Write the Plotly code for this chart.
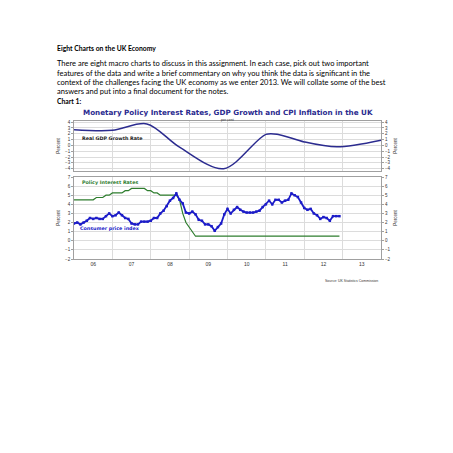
import numpy as np
import plotly.graph_objects as go

# data
year_labels = ["06", "07", "08", "09", "10", "11", "12", "13"]

gdp_x = [2006.0, 2007.0, 2007.9, 2008.75, 2009.9, 2011.0, 2011.35, 2012.0, 2012.85, 2014.0]
gdp_y = [2.7, 2.6, 3.7, -0.3, -4.0, 1.9, 1.85, 0.6, -0.25, 0.9]

policy_rate = [4.5, 4.5, 4.5, 4.5, 4.5, 4.5, 4.5, 4.75, 4.75, 4.75, 5.0, 5.0,
               5.25, 5.25, 5.25, 5.25, 5.5, 5.5, 5.75, 5.75, 5.75, 5.75, 5.75, 5.5,
               5.5, 5.25, 5.25, 5.0, 5.0, 5.0, 5.0, 5.0, 5.0, 4.5, 3.0, 2.0,
               1.5, 1.0, 0.5, 0.5, 0.5, 0.5, 0.5, 0.5, 0.5, 0.5, 0.5, 0.5,
               0.5, 0.5, 0.5, 0.5, 0.5, 0.5, 0.5, 0.5, 0.5, 0.5, 0.5, 0.5,
               0.5, 0.5, 0.5, 0.5, 0.5, 0.5, 0.5, 0.5, 0.5, 0.5, 0.5, 0.5,
               0.5, 0.5, 0.5, 0.5, 0.5, 0.5, 0.5, 0.5, 0.5, 0.5, 0.5, 0.5]

cpi = [1.9, 2.0, 1.8, 2.0, 2.2, 2.5, 2.4, 2.5, 2.4, 2.4, 2.7, 3.0,
       2.7, 2.8, 3.1, 2.8, 2.5, 2.4, 1.9, 1.8, 1.8, 2.1, 2.1, 2.1,
       2.2, 2.5, 2.5, 3.0, 3.3, 3.8, 4.4, 4.7, 5.2, 4.5, 4.1, 3.1,
       3.0, 3.2, 2.9, 2.3, 2.2, 1.8, 1.8, 1.6, 1.1, 1.5, 1.9, 2.9,
       3.5, 3.0, 3.4, 3.7, 3.4, 3.2, 3.1, 3.1, 3.1, 3.2, 3.3, 3.7,
       4.0, 4.4, 4.0, 4.5, 4.5, 4.2, 4.4, 4.5, 5.2, 5.0, 4.8, 4.2,
       3.6, 3.4, 3.5, 3.0, 2.8, 2.4, 2.6, 2.5, 2.2, 2.7, 2.7, 2.7]

paragraph_lines = [
    "There are eight macro charts to discuss in this assignment. In each case, pick out two important",
    "features of the data and write a brief commentary on why you think the data is significant in the",
    "context of the challenges facing the UK economy as we enter 2013. We will collate some of the best",
    "answers and put into a final document for the notes.",
]

months = 2006 + np.arange(len(cpi)) / 12

NAVY = "#2b2b8f"
BLUE = "#1c1cc8"
GREEN = "#2e7d2e"
GRID = "#dcdcdc"
BORDER = "#a0a0a0"

# page body has an 8px margin, so the figure is 445 wide and positions are page pixels
W = 445
fx = lambda v: (v - 8) / W
fy = lambda v: 1 - (v - 8) / W

fig = go.Figure()

fig.add_trace(go.Scatter(x=gdp_x, y=gdp_y, mode="lines", xaxis="x2", yaxis="y2",
                         line=dict(color=NAVY, width=1.5, shape="spline", smoothing=0.9)))
fig.add_trace(go.Scatter(x=months, y=policy_rate, mode="lines", xaxis="x", yaxis="y",
                         line=dict(color=GREEN, width=1.2)))
fig.add_trace(go.Scatter(x=months, y=cpi, mode="lines+markers", xaxis="x", yaxis="y",
                         line=dict(color=BLUE, width=1.8),
                         marker=dict(symbol="square", size=2.5, color=BLUE)))
# invisible traces so the right-hand axes are drawn
fig.add_trace(go.Scatter(x=[2006], y=[0], xaxis="x", yaxis="y3", mode="markers",
                         marker=dict(opacity=0), hoverinfo="skip"))
fig.add_trace(go.Scatter(x=[2006], y=[0], xaxis="x2", yaxis="y4", mode="markers",
                         marker=dict(opacity=0), hoverinfo="skip"))

x_dom = [fx(74), fx(381)]
top_dom = [fy(171), fy(121)]
bot_dom = [fy(259), fy(177)]

tick_font = dict(family="Liberation Sans", size=4.5, color="#333333")
title_font = dict(family="Liberation Sans", size=4.5, color="#333333")

xcommon = dict(range=[2006, 2014], showgrid=False, zeroline=False,
               showline=True, linecolor=BORDER, linewidth=0.8, mirror=True,
               tickvals=[2006.5 + i for i in range(len(year_labels))],
               ticktext=year_labels, ticks="",
               minor=dict(tick0=2006, dtick=1, showgrid=True, gridcolor=GRID, gridwidth=0.8),
               domain=x_dom, automargin=False)

ycommon = dict(dtick=1, tick0=0, zeroline=False, ticks="outside", ticklen=2,
               tickcolor=BORDER, tickfont=tick_font, automargin=False,
               title=dict(text="Percent", font=title_font, standoff=4))

fig.update_layout(
    width=W, height=W,
    margin=dict(l=0, r=0, t=0, b=0),
    paper_bgcolor="white", plot_bgcolor="white",
    showlegend=False,
    xaxis=dict(xcommon, anchor="y", tickfont=dict(family="Liberation Sans", size=5, color="#333333")),
    xaxis2=dict(xcommon, anchor="y2", showticklabels=False),
    yaxis=dict(ycommon, domain=bot_dom, anchor="x", range=[-2, 7],
               showgrid=True, gridcolor=GRID, gridwidth=0.6,
               showline=True, linecolor=BORDER, linewidth=0.8, mirror=True),
    yaxis2=dict(ycommon, domain=top_dom, anchor="x2", range=[-4.4, 4.2],
                showgrid=True, gridcolor=GRID, gridwidth=0.6,
                showline=True, linecolor=BORDER, linewidth=0.8, mirror=True),
    yaxis3=dict(ycommon, overlaying="y", side="right", anchor="x", range=[-2, 7], showgrid=False),
    yaxis4=dict(ycommon, overlaying="y2", side="right", anchor="x2", range=[-4.4, 4.2], showgrid=False),
)

doc_font = "Lato"
fig.add_annotation(text="<b>Eight Charts on the UK Economy</b>", xref="paper", yref="paper",
                   x=fx(55), y=fy(42), xanchor="left", showarrow=False,
                   font=dict(family=doc_font, size=6.8, color="black"))
for i, line in enumerate(paragraph_lines):
    fig.add_annotation(text=line, xref="paper", yref="paper",
                       x=fx(55), y=fy(57 + 9.5 * i), xanchor="left", showarrow=False,
                       font=dict(family=doc_font, size=7.5, color="black"))
fig.add_annotation(text="<b>Chart 1:</b>", xref="paper", yref="paper",
                   x=fx(55), y=fy(95), xanchor="left", showarrow=False,
                   font=dict(family=doc_font, size=6.8, color="black"))

# chart heading placed relative to the top panel
fig.add_annotation(text="<b>Monetary Policy Interest Rates, GDP Growth and CPI Inflation in the UK</b>",
                   xref="x2 domain", yref="y2 domain", x=0.5, y=1.28, showarrow=False,
                   borderpad=0, font=dict(family="DejaVu Sans", size=7.2, color=NAVY))
fig.add_annotation(text="per cent", xref="x2 domain", yref="y2 domain", x=0.5, y=1.085,
                   showarrow=False, borderpad=0,
                   font=dict(family="Liberation Sans", size=3.5, color="#333333"))
fig.add_annotation(text="Source: UK Statistics Commission", xref="paper", yref="paper",
                   x=fx(380), y=fy(281), xanchor="right", showarrow=False,
                   font=dict(family="Liberation Sans", size=3.5, color="#333333"))

label_font = "DejaVu Sans"
fig.add_annotation(text="<b>Real GDP Growth Rate</b>", xref="x2", yref="y2", x=2006.15, y=1.2,
                   xanchor="left", showarrow=False,
                   font=dict(family=label_font, size=4.8, color="#222222"))
fig.add_annotation(text="<b>Policy Interest Rates</b>", xref="x", yref="y", x=2006.15, y=6.35,
                   xanchor="left", showarrow=False,
                   font=dict(family=label_font, size=4.8, color=GREEN))
fig.add_annotation(text="<b>Consumer price index</b>", xref="x", yref="y", x=2006.1, y=1.3,
                   xanchor="left", showarrow=False,
                   font=dict(family=label_font, size=4.8, color=BLUE))

fig.write_html("out.html")
